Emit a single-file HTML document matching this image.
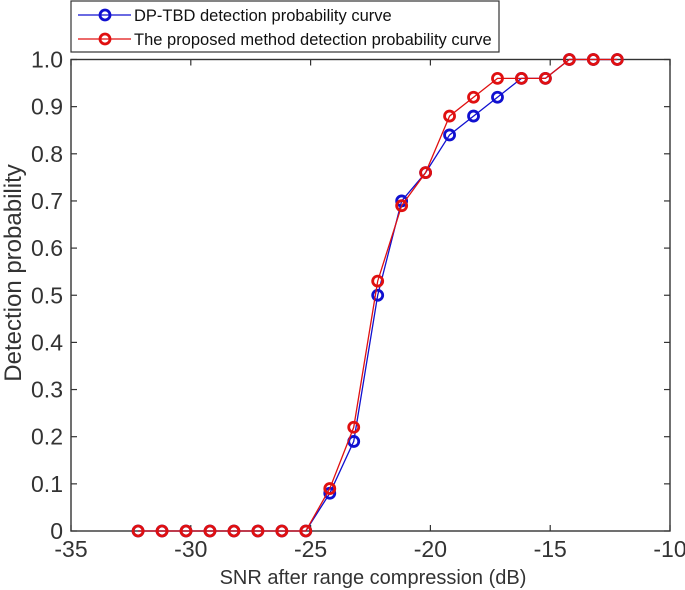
<!DOCTYPE html>
<html><head><meta charset="utf-8"><style>
body{margin:0;background:#fff;}
svg{display:block;font-family:"Liberation Sans",Arial,sans-serif;}
</style></head><body>
<svg id="chart" width="685" height="590"></svg>
<script>
const snrValues=[-32.2,-31.2,-30.2,-29.2,-28.2,-27.2,-26.2,-25.2,-24.2,-23.2,-22.2,-21.2,-20.2,-19.2,-18.2,-17.2,-16.2,-15.2,-14.2,-13.2,-12.2];
const dpTbdValues=[0,0,0,0,0,0,0,0,0.08,0.19,0.50,0.70,0.76,0.84,0.88,0.92,0.96,0.96,1,1,1];
const proposedValues=[0,0,0,0,0,0,0,0,0.09,0.22,0.53,0.69,0.76,0.88,0.92,0.96,0.96,0.96,1,1,1];
const xTicks=[-35,-30,-25,-20,-15,-10];
const yTicks=[0,0.1,0.2,0.3,0.4,0.5,0.6,0.7,0.8,0.9,1.0];
const yTickLabels=["0","0.1","0.2","0.3","0.4","0.5","0.6","0.7","0.8","0.9","1.0"];

const L=71,R=670,T=59.5,B=531;
const xS=v=>L+(v+35)/25*(R-L);
const yS=v=>B-v*(B-T);
const svg=document.getElementById('chart');
const NS='http://www.w3.org/2000/svg';
function mk(tag,attrs,parent){const e=document.createElementNS(NS,tag);for(const k in attrs)e.setAttribute(k,attrs[k]);(parent||svg).appendChild(e);return e;}

const frame=mk('rect',{x:L,y:T,width:R-L,height:B-T,fill:'none',stroke:'#333','stroke-width':1.4});



xTicks.forEach(t=>{
  const x=xS(t);
  mk('line',{x1:x,y1:B,x2:x,y2:B-6,stroke:'#333','stroke-width':1.2});
  mk('line',{x1:x,y1:T,x2:x,y2:T+6,stroke:'#333','stroke-width':1.2});
  const tx=mk('text',{x:x,y:B+26,'text-anchor':'middle','font-size':23,fill:'#333'});
  tx.textContent=String(t);
  
  
});
yTicks.forEach((t,i)=>{
  const y=yS(t);
  mk('line',{x1:L,y1:y,x2:L+6,y2:y,stroke:'#333','stroke-width':1.2});
  mk('line',{x1:R,y1:y,x2:R-6,y2:y,stroke:'#333','stroke-width':1.2});
  const tx=mk('text',{x:L-8,y:y+8,'text-anchor':'end','font-size':23,fill:'#333'});
  tx.textContent=yTickLabels[i];
  
  
});

const xt=mk('text',{x:373,y:584,'text-anchor':'middle','font-size':20,fill:'#333'});
xt.textContent='SNR after range compression (dB)';


const yt=mk('text',{x:0,y:0,'text-anchor':'middle','font-size':24,fill:'#333',transform:'translate(21,273) rotate(-90)'});
yt.textContent='Detection probability';



function series(vals,color,name){
  const g=mk('g',{});
  
  
  const pts=snrValues.map((s,i)=>xS(s)+','+yS(vals[i])).join(' ');
  mk('polyline',{points:pts,fill:'none',stroke:color,'stroke-width':1.3},g);
  snrValues.forEach((s,i)=>{
    const c=mk('circle',{cx:xS(s),cy:yS(vals[i]),r:5,fill:'none',stroke:color,'stroke-width':2.8},g);
    
    
  });
}
series(dpTbdValues,'#1010d0','dp-tbd-series');
series(proposedValues,'#e01010','proposed-series');

const lg=mk('g',{});


mk('rect',{x:71,y:1,width:428,height:51,fill:'#fff',stroke:'#333','stroke-width':1.2},lg);
[['#1010d0','DP-TBD detection probability curve',15],['#e01010','The proposed method detection probability curve',39]].forEach(([c,label,y])=>{
  const e=mk('g',{},lg);
  
  
  mk('line',{x1:78,y1:y,x2:131,y2:y,stroke:c,'stroke-width':1.3},e);
  mk('circle',{cx:105,cy:y,r:5,fill:'none',stroke:c,'stroke-width':2.8},e);
  const t=mk('text',{x:134,y:y+6,'font-size':16.5,fill:'#111'},e);
  t.textContent=label;
});
</script>
</body></html>
